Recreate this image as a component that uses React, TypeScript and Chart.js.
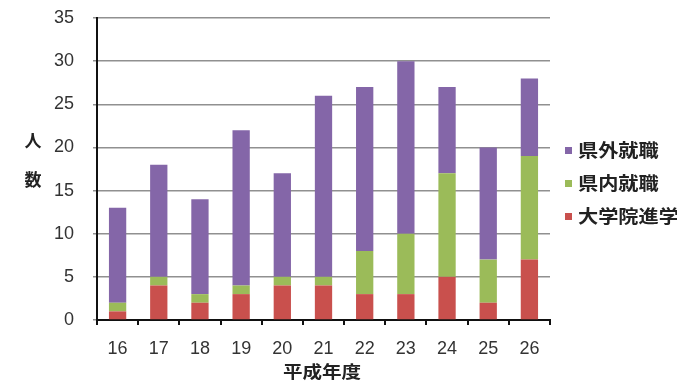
import React, { useEffect, useRef } from "react";
import { Chart, registerables } from "chart.js";

Chart.register(...registerables);

const categories = ["16", "17", "18", "19", "20", "21", "22", "23", "24", "25", "26"];
const graduateSchool = [1, 4, 2, 3, 4, 4, 3, 3, 5, 2, 7];
const inPrefecture = [1, 1, 1, 1, 1, 1, 5, 7, 12, 5, 12];
const outPrefecture = [11, 13, 11, 18, 12, 21, 19, 20, 10, 13, 9];
const yTicks = [0, 5, 10, 15, 20, 25, 30, 35];
const yTitleChars = ["人", "数"];
const xTitle = "平成年度";

const FONT_NUM = '"Liberation Sans", "Noto Sans CJK JP", sans-serif';
const FONT_JP = '"Noto Sans CJK JP", sans-serif';

const overlayPlugin = {
  id: "overlay",
  afterDraw(chart: any) {
    const ctx = chart.ctx;
    ctx.save();
    ctx.fillStyle = "#222";
    ctx.textAlign = "center";
    ctx.textBaseline = "middle";
    ctx.font = `bold 17px ${FONT_JP}`;
    ctx.fillText(yTitleChars[0], 33, 141);
    ctx.fillText(yTitleChars[1], 33, 180);
    ctx.save();
    ctx.translate(322, 372);
    ctx.scale(1.15, 1);
    ctx.fillText(xTitle, 0, 0);
    ctx.restore();

    const ds = chart.data.datasets;
    const rows = [ds[2], ds[1], ds[0]];
    rows.forEach((d: any, i: number) => {
      const cy = 150 + i * 33;
      ctx.fillStyle = d.backgroundColor;
      ctx.fillRect(565, cy - 3, 7, 7);
      ctx.fillStyle = "#222";
      ctx.textAlign = "left";
      ctx.font = `bold 18px ${FONT_JP}`;
      ctx.save();
      ctx.translate(578, cy);
      ctx.scale(1.12, 1);
      ctx.fillText(d.label, 0, 0);
      ctx.restore();
    });
    ctx.restore();
  },
};

export default function App() {
  const ref = useRef<HTMLCanvasElement>(null);
  useEffect(() => {
    const chart = new Chart(ref.current!, {
      type: "bar",
      data: {
        labels: categories,
        datasets: [
          { label: "大学院進学", data: graduateSchool, backgroundColor: "#C9504D" },
          { label: "県内就職", data: inPrefecture, backgroundColor: "#9BBB59" },
          { label: "県外就職", data: outPrefecture, backgroundColor: "#8466A8" },
        ],
      },
      options: {
        animation: false,
        responsive: false,
        layout: { padding: { top: 18, right: 127, left: 0, bottom: 0 } },
        datasets: { bar: { categoryPercentage: 1, barPercentage: 0.42 } },
        plugins: { legend: { display: false }, tooltip: { enabled: false } },
        scales: {
          x: {
            stacked: true,
            offset: true,
            afterFit: (s: any) => { s.height = 63; s.paddingLeft = 0; s.paddingRight = 0; },
            grid: { display: true, drawOnChartArea: false, drawTicks: true, tickLength: 5, color: "#111", lineWidth: 2 },
            border: { display: true, color: "#111", width: 2 },
            ticks: { color: "#333", font: { family: FONT_NUM, size: 18 }, padding: 13, maxRotation: 0 },
          },
          y: {
            stacked: true,
            min: 0,
            max: 35,
            afterFit: (s: any) => { s.width = 97; s.paddingTop = 0; s.paddingBottom = 0; },
            afterBuildTicks: (s: any) => { s.ticks = yTicks.map((v) => ({ value: v })); },
            grid: { color: "#909090", lineWidth: 1.5, tickLength: 4 },
            border: { display: true, color: "#111", width: 2 },
            ticks: { color: "#333", font: { family: FONT_NUM, size: 18 }, padding: 19 },
          },
        },
      },
      plugins: [overlayPlugin],
    });
    return () => chart.destroy();
  }, []);
  return (
    <div style={{ position: "fixed", left: 0, top: 0, width: 677, height: 383, background: "#fff" }}>
      <canvas ref={ref} width={677} height={383} style={{ width: 677, height: 383 }} />
    </div>
  );
}
